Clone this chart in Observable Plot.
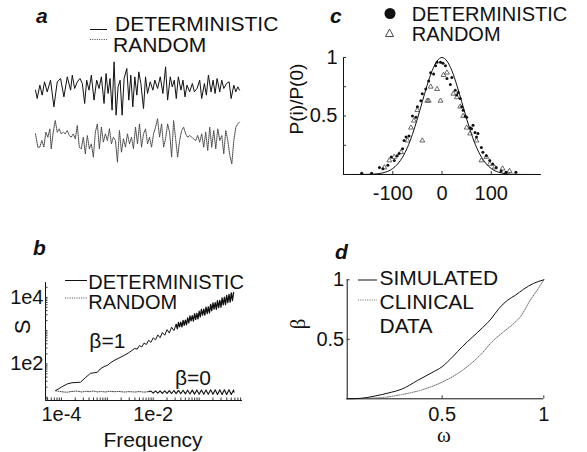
<!DOCTYPE html>
<html><head><meta charset="utf-8">
<script src="https://cdn.jsdelivr.net/npm/d3@7"></script>
<script src="https://cdn.jsdelivr.net/npm/@observablehq/plot@0.6"></script>
<style>
html,body{margin:0;padding:0;background:#fff;}
#fig{position:relative;width:587px;height:452px;overflow:hidden;background:#fff;}
</style></head><body><div id="fig"></div>
<script>
// ---------- Panel a: time series ----------
const waveTimeDet = [105,110,118,125,132,140,150,160,170,180,190,200,210,215,222,230,238,245,252,258,265,272,280,288,295,302,310,316,322,328,334,340,346,352,358,364,370,378,384,390,396,402,408,414,420,428,434,440,448,456,462,470,478,486,494,500,508,514,520,526,532,540,546,552,558,566,574,580,588,596,602,610,616,622,630,636,642,648,656,662,668,676,684,690,698,704,710,715];
const waveDet = [-5,-30,10,-20,20,-10,25,-55,20,30,-25,35,-5,40,0,20,30,15,-45,25,-5,40,-35,25,0,35,-45,45,-15,30,-65,80,-80,5,25,-80,30,60,-35,40,-55,35,-20,50,15,-60,35,-15,20,-5,25,0,35,-15,65,-35,35,5,25,-30,35,-5,25,-25,10,-10,15,-10,0,25,-30,15,-20,40,-10,25,-15,30,-10,25,0,15,20,-30,10,-10,5,-5];
const waveTimeRand = [105,112,118,124,130,136,142,148,152,158,164,170,176,182,188,194,200,206,212,218,224,230,236,242,248,254,260,266,272,278,284,290,296,302,308,314,320,326,332,338,344,350,356,362,368,374,380,386,392,398,404,410,416,422,428,434,440,446,452,458,464,470,476,482,488,494,500,506,512,518,524,530,536,542,548,554,560,566,572,578,584,590,596,602,608,614,620,626,632,638,644,650,656,662,668,674,680,686,692,698,704,710,715];
const waveRand = [20,-20,-20,0,-20,25,10,35,-25,25,60,25,35,20,25,20,30,15,10,20,5,45,-20,-25,10,-40,15,-25,-10,-50,25,50,-25,40,-5,20,0,35,-10,10,0,-65,30,-35,5,-20,20,-10,10,-25,40,-10,50,-20,20,35,-10,10,-20,20,40,65,10,50,-20,5,50,25,-50,60,5,-50,0,30,40,20,10,15,10,5,0,15,-5,20,-20,25,-30,40,-20,30,-25,35,0,15,-40,30,0,-45,-70,0,40,50,55];

// ---------- Panel b: spectra ----------
const specFreqDet = [7.5e-5,1e-4,1.35e-4,1.7e-4,2.6e-4,3.3e-4,4.3e-4,5.2e-4,6.1e-4,7e-4,8.5e-4,1e-3,1.2e-3,1.4e-3,1.8e-3,2.3e-3,2.9e-3,3.4e-3,
  0.00398,0.00447,0.00501,0.00562,0.00631,0.00708,0.00794,0.00891,0.01,0.0112,0.0126,0.0141,0.0158,0.0178,0.02,0.0224,0.0251,0.0282,
  0.0316,0.0335,0.0355,0.0376,0.0398,0.0422,0.0447,0.0473,0.0501,0.0531,0.0562,0.0596,0.0631,0.0668,0.0708,0.075,0.0794,0.0841,0.0891,0.0944,
  0.1,0.106,0.112,0.119,0.126,0.133,0.141,0.150,0.158,0.168,0.178,0.188,0.200,0.211,0.224,0.237,0.251,0.266,0.282,0.299,
  0.316,0.335,0.355,0.376,0.398,0.422,0.447,0.473,0.501,0.531,0.562];
const specDet = [15.8,20,25,27,28,38,52,54,56,70,83,90,110,126,150,178,215,250,
  292,277,355,321,422,382,512,444,608,527,740,611,879,726,1069,843,1268,1002,
  1542,1140,1762,1300,1791,1294,2042,1442,2080,1503,2427,1714,2773,1954,2818,1945,3214,2168,3273,2259,
  3819,2576,4365,2938,4436,2924,5058,3258,5152,3396,6152,3963,6871,4416,6982,4395,7962,4898,8110,5105,
  9683,5957,10093,6053,11508,6918,12246,7194,13677,8035,13900];
const specFreqRand = [7.5e-5,1e-4,1.3e-4,1.7e-4,2.2e-4,2.8e-4,3.4e-4,4.2e-4,5e-4,6e-4,7.5e-4,9e-4,1.1e-3,1.4e-3,1.8e-3,2.3e-3,3e-3,4e-3,5e-3,6.3e-3,8e-3,
  0.00891,0.01,0.0112,0.0126,0.0141,0.0158,0.0178,0.02,0.0224,0.0251,0.0282,0.0316,0.0355,0.0398,0.0447,0.0501,0.0562,0.0631,0.0708,0.0794,0.0891,0.1,0.112,0.126,0.141,0.158,0.178,0.2,0.224,0.251,0.282,0.316,0.355,0.398,0.447,0.501,0.562,0.575];
const specRand = [15.5,14.5,14,14.8,15.2,14.2,15,14.5,15.3,14.3,14.8,14.2,15,14.5,14.8,14.2,14.6,14.2,14.7,14.1,14.6,
  15.2,13.2,15.3,13.1,15.4,13.0,15.5,12.9,15.6,12.8,15.8,12.7,15.9,12.6,16.0,12.5,16.1,12.4,16.2,12.3,16.3,12.2,16.4,12.2,16.4,12.1,16.5,12.1,16.5,12.0,16.6,12.0,16.6,12.0,16.6,12.0,16.4,14];
const randDottedUpTo = 8e-3;
const detThickFrom = 0.0316;
const bXTicks = [1e-4, 1e-2], bXTickLabels = ["1e-4", "1e-2"];
const bYTicks = [1e2, 1e4], bYTickLabels = ["1e2", "1e4"];

// ---------- Panel c: distribution ----------
const fitLag = [-200,-160,-140,-120,-100,-90,-80,-70,-60,-50,-40,-30,-20,-10,0,10,20,30,40,50,60,70,80,90,100,120,140,160,200];
const fitP   = [0,0.0005,0.003,0.014,0.051,0.09,0.149,0.233,0.343,0.476,0.622,0.765,0.888,0.97,1,0.97,0.888,0.765,0.622,0.476,0.343,0.233,0.149,0.09,0.051,0.014,0.003,0.0005,0];
const detLag = [-163,-143,-127,-120,-110,-103,-97,-91,-87,-80,-77,-73,-67,-60,-53,-50,-43,-40,-33,-27,-23,-17,-13,-10,-3,2,7,10,17,20,27,30,33,37,40,43,47,50,57,60,63,67,70,73,80,83,90,97,103,110,120,130,150];
const detP   = [0.01,0.01,0.06,0.05,0.08,0.15,0.12,0.16,0.18,0.22,0.29,0.32,0.33,0.50,0.49,0.58,0.63,0.69,0.73,0.80,0.87,0.86,0.93,0.96,0.96,0.95,0.93,0.82,0.77,0.83,0.72,0.68,0.70,0.65,0.58,0.55,0.50,0.49,0.40,0.39,0.42,0.36,0.32,0.35,0.23,0.19,0.16,0.12,0.09,0.06,0.03,0.02,0.02];
const randLag = [-117,-107,-97,-83,-70,-63,-57,-50,-40,-30,-27,-23,-10,-3,3,10,23,30,37,43,50,57,70,80,90,97,107,123,137];
const randP   = [0.06,0.12,0.15,0.19,0.29,0.40,0.46,0.55,0.29,0.63,0.63,0.75,0.73,0.63,0.85,0.87,0.69,0.66,0.58,0.50,0.40,0.35,0.29,0.12,0.15,0.09,0.06,0.05,0.03];
const cXTicks = [-100, 0, 100], cXTickLabels = ["-100", "0", "100"];
const cYTicks = [0.5, 1], cYTickLabels = ["0.5", "1"];

// ---------- Panel d: beta vs omega ----------
const omegaSim = [0.03,0.1,0.16,0.25,0.3,0.38,0.45,0.5,0.55,0.6,0.65,0.7,0.74,0.78,0.82,0.86,0.9,0.95,1];
const betaSim  = [0,0.004,0.02,0.055,0.08,0.155,0.22,0.27,0.35,0.44,0.52,0.6,0.67,0.76,0.826,0.87,0.92,0.97,1];
const omegaClin = [0.05,0.2,0.3,0.4,0.5,0.6,0.7,0.74,0.8,0.85,0.885,0.934,0.97,1];
const betaClin  = [0,0.01,0.035,0.075,0.14,0.24,0.39,0.47,0.56,0.63,0.69,0.83,0.92,1];
const dXTicks = [0.5, 1], dXTickLabels = ["0.5", "1"];
const dYTicks = [0.5, 1], dYTickLabels = ["0.5", "1"];

// ---------- Texts ----------
const legendA = ["DETERMINISTIC", "RANDOM"];
const legendB = ["DETERMINISTIC", "RANDOM"];
const legendC = ["DETERMINISTIC", "RANDOM"];
const legendD = ["SIMULATED", "CLINICAL", "DATA"];
const panelLetters = ["a", "b", "c", "d"];

// ================= drawing =================
const SANS = '"Liberation Sans", Arial, Helvetica, sans-serif';
const SERIF = '"Liberation Serif", "DejaVu Serif", serif';
const fig = document.getElementById("fig");
const baseStyle = {background: "transparent", fontFamily: SANS, fontSize: "20px", color: "#111", overflow: "visible"};
function place(el, left, top) {
  el.style.position = "absolute"; el.style.left = left + "px"; el.style.top = top + "px";
  el.style.maxWidth = "none";
  fig.appendChild(el);
}
const lab = (ticks, labels) => d => labels[ticks.indexOf(d)];
const zip = (xs, ys, kx, ky) => xs.map((x, i) => ({[kx]: x, [ky]: ys[i]}));
const blank = () => "";

// Panel a
const detWave = zip(waveTimeDet, waveDet, "t", "v");
const rndWave = zip(waveTimeRand, waveRand, "t", "v");
place(Plot.plot({width: 204, height: 60, margin: 0, x: {domain: [105, 715], axis: null, label: null}, y: {domain: [-90, 90], axis: null, label: null}, style: baseStyle,
  marks: [Plot.line(detWave, {x: "t", y: "v", stroke: "#111", strokeWidth: 1})]}), 35, 58);
place(Plot.plot({width: 204, height: 60, margin: 0, x: {domain: [105, 715], axis: null, label: null}, y: {domain: [-90, 90], axis: null, label: null}, style: baseStyle,
  marks: [Plot.line(rndWave, {x: "t", y: "v", stroke: "#444", strokeWidth: 1, strokeDasharray: "1,1"})]}), 35, 110);

// Panel b
const bDomX = [4.5e-5, 0.88], bDomY = [7.9, 2.8e4];
const detSpec = zip(specFreqDet, specDet, "f", "s");
const rndSpec = zip(specFreqRand, specRand, "f", "s");
place(Plot.plot({width: 290, height: 232, marginLeft: 45, marginRight: 48, marginTop: 62, marginBottom: 52,
  x: {type: "log", domain: bDomX, axis: null, label: null}, y: {type: "log", domain: bDomY, axis: null, label: null}, style: baseStyle,
  marks: [
    Plot.ruleX([bDomX[0]], {stroke: "#111"}),
    Plot.ruleY([bDomY[0]], {stroke: "#111"}),
    Plot.axisX({ticks: 40, tickSize: -2.5, tickFormat: blank, stroke: "#333", label: null}),
    Plot.axisY({ticks: 40, tickSize: -2.5, tickFormat: blank, stroke: "#333", label: null}),
    Plot.axisX({ticks: bXTicks, tickSize: 0, tickPadding: 6, tickFormat: lab(bXTicks, bXTickLabels), label: null}),
    Plot.axisY({ticks: bYTicks, tickSize: 0, tickPadding: 2, tickFormat: lab(bYTicks, bYTickLabels), label: null}),
    Plot.line(rndSpec.filter(d => d.f <= randDottedUpTo), {x: "f", y: "s", stroke: "#444", strokeWidth: 1, strokeDasharray: "1,1.3"}),
    Plot.line(rndSpec.filter(d => d.f >= randDottedUpTo), {x: "f", y: "s", stroke: "#111", strokeWidth: 1.1}),
    Plot.line(detSpec.filter(d => d.f <= detThickFrom), {x: "f", y: "s", stroke: "#111", strokeWidth: 1}),
    Plot.line(detSpec.filter(d => d.f >= detThickFrom), {x: "f", y: "s", stroke: "#111", strokeWidth: 1.3})
  ]}), 0, 220);

// Panel c
const fit = zip(fitLag, fitP, "lag", "p");
const detPts = zip(detLag, detP, "lag", "p");
const rndPts = zip(randLag, randP, "lag", "p");
place(Plot.plot({width: 297, height: 220, marginLeft: 53, marginRight: 47, marginTop: 57, marginBottom: 46,
  x: {domain: [-200, 200], axis: null, label: null}, y: {domain: [0, 1], axis: null, label: null}, style: baseStyle,
  marks: [
    Plot.ruleX([-200], {stroke: "#111"}),
    Plot.ruleY([0], {stroke: "#111"}),
    Plot.axisY({ticks: [0.25, 0.5, 0.75, 1], tickSize: -3, tickFormat: blank, stroke: "#333", label: null}),
    Plot.axisX({ticks: cXTicks, tickSize: -3, tickFormat: blank, stroke: "#333", label: null}),
    Plot.axisY({ticks: cYTicks, tickSize: 0, tickPadding: 6, tickFormat: lab(cYTicks, cYTickLabels), label: null}),
    Plot.axisX({ticks: cXTicks, tickSize: 0, tickPadding: 11, tickFormat: lab(cXTicks, cXTickLabels), label: null}),
    Plot.line(fit, {x: "lag", y: "p", stroke: "#111", strokeWidth: 1, curve: "monotone-x"}),
    Plot.dot(rndPts, {x: "lag", y: "p", symbol: "triangle", r: 1.8, fill: "none", stroke: "#444", strokeWidth: 0.8}),
    Plot.dot(detPts, {x: "lag", y: "p", r: 1.5, fill: "#111", stroke: null})
  ]}), 290, 0);

// Panel d
const sim = zip(omegaSim, betaSim, "w", "b");
const clin = zip(omegaClin, betaClin, "w", "b");
place(Plot.plot({width: 297, height: 232, marginLeft: 56.7, marginRight: 43.7, marginTop: 59.3, marginBottom: 53.7,
  x: {domain: [0.033, 1], axis: null, label: null}, y: {domain: [0, 1], axis: null, label: null}, style: baseStyle,
  marks: [
    Plot.ruleX([0.033], {stroke: "#111"}),
    Plot.ruleY([0], {stroke: "#111"}),
    Plot.axisX({ticks: dXTicks, tickSize: -3, tickFormat: blank, stroke: "#333", label: null}),
    Plot.axisY({ticks: dYTicks, tickSize: -3, tickFormat: blank, stroke: "#333", label: null}),
    Plot.axisX({ticks: dXTicks, tickSize: 0, tickPadding: 8, tickFormat: lab(dXTicks, dXTickLabels), label: null}),
    Plot.axisY({ticks: dYTicks, tickSize: 0, tickPadding: 3, tickFormat: lab(dYTicks, dYTickLabels), label: null}),
    Plot.line(clin, {x: "w", y: "b", stroke: "#666", strokeWidth: 1, strokeDasharray: "1,1.3", curve: "monotone-x"}),
    Plot.line(sim, {x: "w", y: "b", stroke: "#111", strokeWidth: 1, curve: "monotone-x"})
  ]}), 290, 220);

// Overlay: panel letters, legends, axis titles
const ov = d3.create("svg").attr("width", 587).attr("height", 452)
  .style("position", "absolute").style("left", "0px").style("top", "0px")
  .style("font-family", SANS).style("overflow", "visible");
function txt(x, y, s, size, opts = {}) {
  const t = ov.append("text").attr("x", x).attr("y", y).attr("font-size", size).attr("fill", "#111").text(s);
  if (opts.anchor) t.attr("text-anchor", opts.anchor);
  if (opts.rotate) t.attr("transform", `rotate(-90 ${x} ${y})`);
  if (opts.family) t.attr("font-family", opts.family);
  if (opts.bold) t.attr("font-weight", "bold").attr("font-style", "italic");
  return t;
}
function seg(x1, x2, y, dotted, color = "#111") {
  const l = ov.append("line").attr("x1", x1).attr("x2", x2).attr("y1", y).attr("y2", y).attr("stroke", color).attr("stroke-width", 1);
  if (dotted) l.attr("stroke-dasharray", "1,1.3");
}
// letters
txt(36, 23, panelLetters[0], 21, {bold: true});
txt(33, 255, panelLetters[1], 21, {bold: true});
txt(330, 23, panelLetters[2], 21, {bold: true});
txt(335, 259, panelLetters[3], 21, {bold: true});
// legend a
seg(90, 107, 29.5, false); seg(90, 107, 39.5, true, "#444");
txt(115, 31, legendA[0], 21); txt(113, 52.3, legendA[1], 21);
// legend b
seg(65, 87, 280.5, false); seg(65, 87, 298, true, "#444");
txt(88.3, 288.5, legendB[0], 20); txt(88.3, 308.5, legendB[1], 20);
txt(89.3, 348, "β=1", 21); txt(175, 385, "β=0", 21);
txt(30, 327, "S", 22, {anchor: "middle", rotate: true});
txt(153, 447, "Frequency", 21, {anchor: "middle"});
// legend c
ov.append("circle").attr("cx", 390).attr("cy", 13.5).attr("r", 5.5).attr("fill", "#111");
ov.append("path").attr("d", "M389.5,29 L393.5,36.5 L385.5,36.5 Z").attr("fill", "none").attr("stroke", "#333").attr("stroke-width", 0.9);
txt(411.7, 20.7, legendC[0], 20); txt(411.7, 40.7, legendC[1], 20);
txt(303, 99, "P(i)/P(0)", 19, {anchor: "middle", rotate: true});
// legend d
seg(358, 377, 280, false); seg(358, 377, 300, true, "#666");
txt(379.5, 285, legendD[0], 21); txt(379.5, 309, legendD[1], 21); txt(379.5, 333, legendD[2], 21);
txt(305, 324, "β", 21, {anchor: "middle", rotate: true, family: SERIF});
txt(444, 442, "ω", 21, {anchor: "middle", family: SERIF});
fig.appendChild(ov.node());
</script></body></html>
